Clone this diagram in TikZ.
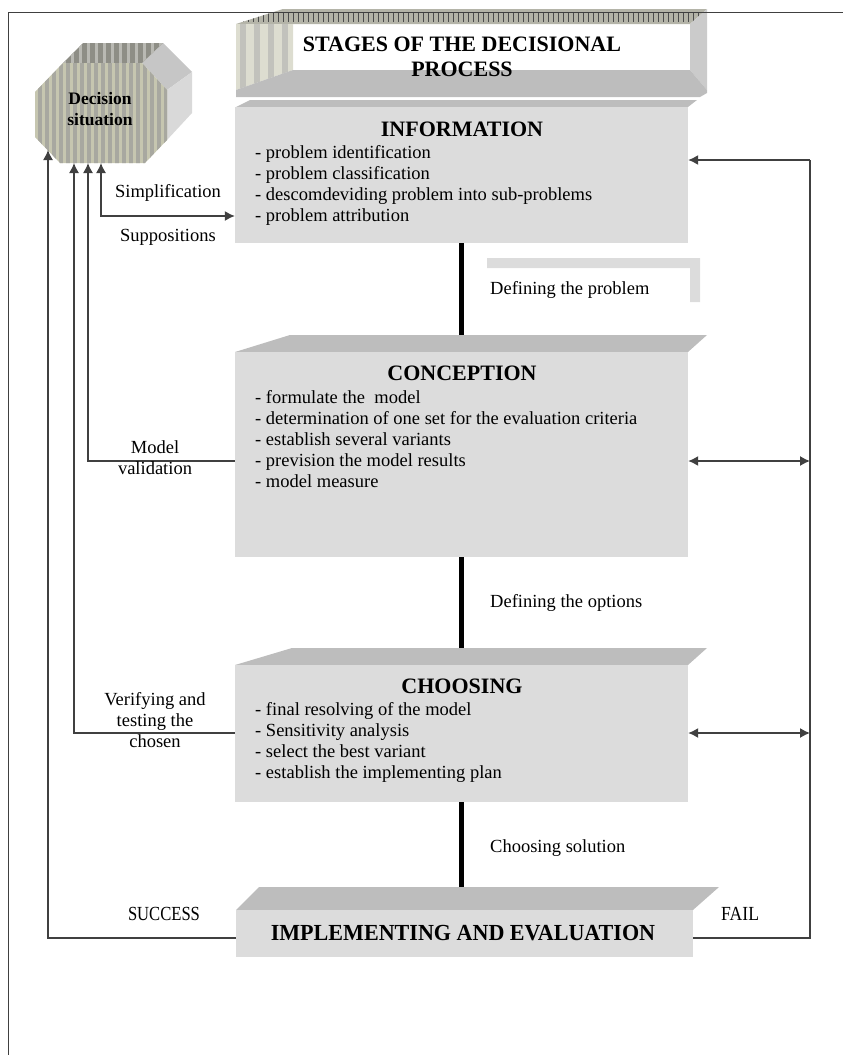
\documentclass[tikz,border=0pt]{standalone}
\usepackage{fontspec}
\setmainfont{Liberation Serif}
\usetikzlibrary{arrows.meta}

\definecolor{boxfront}{HTML}{DCDCDC}
\definecolor{boxtop}{HTML}{BDBDBD}
\definecolor{boxside}{HTML}{CBCBCB}
\definecolor{linegray}{HTML}{404040}
\definecolor{stripeA}{HTML}{C6C6B0}
\definecolor{stripeB}{HTML}{A8A8A0}
\definecolor{hextop}{HTML}{8E8E86}
\definecolor{titletop}{HTML}{B4B4A8}

\tikzset{
	stagebox/.style = {fill=boxfront, inner sep=0pt, minimum width=453pt},
	topface/.style = {fill=boxtop},
	conn/.style = {draw=linegray, line width=1.3pt},
	stem/.style = {line width=5pt, black},
	itemlist/.style = {font=\fontsize{18.5}{21}\selectfont, align=left, anchor=north west, inner sep=0pt},
	stagehead/.style = {font=\fontsize{22}{25}\selectfont\bfseries, anchor=base, inner sep=0pt},
	sidelabel/.style = {font=\fontsize{18.5}{21}\selectfont, align=center, inner sep=0pt},
	>={Latex[length=10pt,width=10pt]}
}

\begin{document}
\begin{tikzpicture}[x=1pt, y=-1pt]
	\useasboundingbox (0,0) rectangle (843,1055);
	
	% title box
	\begin{scope}
		\clip (236,24) -- (283,9) -- (707,9) -- (690,24) -- cycle;
		\fill[titletop] (230,5) rectangle (710,26);
		\foreach \x in {238,243,...,705}
			\draw[gray!60!black, line width=0.5pt] (\x,13) -- (\x,22);
	\end{scope}
	\begin{scope}
		\clip (236,24) -- (293,24) -- (293,70) -- (236,90) -- cycle;
		\fill[stripeA!60!white] (230,20) rectangle (300,95);
		\foreach \x in {240,254,...,290}
			\fill[stripeB!70!white] (\x,20) rectangle (\x+6,95);
	\end{scope}
	\fill[boxside] (690,24) -- (707,9) -- (707,90) -- (690,70) -- cycle;
	\fill[boxtop] (236,90) -- (293,70) -- (690,70) -- (707,90) -- (707,93) -- (700,97) -- (236,97) -- cycle;
	\node[font=\fontsize{22}{25}\selectfont\bfseries, align=center, anchor=north, inner sep=0pt] (title) at (462,37)
		{STAGES OF THE DECISIONAL\\PROCESS};
	
	% frame
	\draw[linegray, line width=1pt] (843,12) -- (8,12) -- (8,1055);
	
	% decision situation
	\fill[gray!45] (142,63) -- (163,43) -- (192,72) -- (167,90) -- cycle;
	\fill[gray!30] (167,90) -- (192,72) -- (192,113) -- (167,140) -- cycle;
	\begin{scope}
		\clip (63,63) -- (83,43) -- (163,43) -- (142,63) -- cycle;
		\fill[hextop] (55,40) rectangle (170,70);
		\foreach \x in {63,71,...,166}
			\fill[stripeB!80!white] (\x,40) rectangle (\x+3,70);
	\end{scope}
	\begin{scope}
		\clip (35,92) -- (63,63) -- (142,63) -- (167,90) -- (167,140) -- (145,163) -- (60,163) -- (35,137) -- cycle;
		\fill[stripeA] (30,60) rectangle (170,170);
		\foreach \x in {38,45,...,166}
			\fill[stripeB] (\x,60) rectangle (\x+3.5,170);
	\end{scope}
	\node[font=\fontsize{17.5}{21}\selectfont\bfseries, align=center, anchor=north, inner sep=0pt] (sit) at (100,92) {Decision\\situation};
	\coordinate (sitA) at (48,150);
	\coordinate (sitB) at (74,163);
	\coordinate (sitC) at (88,163);
	\coordinate (sitD) at (101,163);
	
	% stage boxes
	\fill[topface] (236,107) -- (250,100) -- (697,100) -- (688,107) -- cycle;
	\node[stagebox, minimum height=136pt] (info) at (461.5,175) {};
	\fill[topface] (235,352) -- (290,335) -- (707,335) -- (688,352) -- cycle;
	\node[stagebox, minimum height=205pt] (conc) at (461.5,454.5) {};
	\fill[topface] (235,665) -- (292,648) -- (707,648) -- (688,665) -- cycle;
	\node[stagebox, minimum height=137pt] (choose) at (461.5,733.5) {};
	\fill[topface] (236,910) -- (259,887) -- (719,887) -- (693,910) -- cycle;
	\node[stagebox, minimum width=457pt, minimum height=47pt] (impl) at (464.5,933.5) {};
	
	\node[stagehead] (infohead) at (462,136) {INFORMATION};
	\node[itemlist] (infolist) at (255,145) {- problem identification\\- problem classification\\- descomdeviding problem into sub-problems\\- problem attribution};
	\node[stagehead] (conchead) at (462,380) {CONCEPTION};
	\node[itemlist] (conclist) at (255,390) {- formulate the\ \ model\\- determination of one set for the evaluation criteria\\- establish several variants\\- prevision the model results\\- model measure};
	\node[stagehead] (choosehead) at (462,693) {CHOOSING};
	\node[itemlist] (chooselist) at (255,702) {- final resolving of the model\\- Sensitivity analysis\\- select the best variant\\- establish the implementing plan};
	\node[stagehead, font=\fontsize{23}{25}\selectfont\bfseries] (implhead) at (463,940) {\scalebox{0.96}[1]{IMPLEMENTING AND EVALUATION}};
	
	% stems between stages
	\draw[stem] (info.south) -- ([yshift=17pt]conc.north);
	\draw[stem] (conc.south) -- ([yshift=17pt]choose.north);
	\draw[stem] (choose.south) -- ([yshift=23pt]impl.north -| choose.south);
	\fill[boxfront] (487,258) -- (700,258) -- (700,302) -- (690,302) -- (690,268) -- (487,268) -- cycle;
	\node[sidelabel, anchor=base west] (deflab1) at (490,294) {Defining the problem};
	\node[sidelabel, anchor=base west] (deflab2) at (490,607) {Defining the options};
	\node[sidelabel, anchor=base west] (deflab3) at (490,852) {Choosing solution};
	
	% right feedback loop
	\coordinate (r1) at (810,160);
	\coordinate (r2) at (810,461);
	\coordinate (r3) at (810,733);
	\coordinate (r4) at (810,938);
	\draw[conn] (impl.east |- r4) -- (r4) -- (r1);
	\draw[conn, ->] (r1) -- (info.east |- r1);
	\draw[conn, <->] (conc.east |- r2) -- (r2);
	\draw[conn, <->] (choose.east |- r3) -- (r3);
	\node[sidelabel, anchor=base west, font=\fontsize{20}{22}\selectfont] (fail) at (721,920) {\scalebox{0.88}[1]{FAIL}};
	
	% left feedback loop
	\coordinate (l1) at (101,216);
	\coordinate (l2) at (88,461);
	\coordinate (l3) at (74,733);
	\coordinate (l4) at (48,938);
	\draw[conn, <->] (sitD) -- (l1) -- (info.west |- l1);
	\draw[conn, ->] (conc.west |- l2) -- (l2) -- (sitC);
	\draw[conn, ->] (choose.west |- l3) -- (l3) -- (sitB);
	\draw[conn, ->] (impl.west |- l4) -- (l4) -- (sitA);
	\node[sidelabel, anchor=base] (simp) at (168,197) {Simplification};
	\node[sidelabel, anchor=base] (supp) at (168,241) {Suppositions};
	\node[sidelabel, anchor=north] (valid) at (155,440) {Model\\validation};
	\node[sidelabel, anchor=north] (verif) at (155,692) {Verifying and\\testing the\\chosen};
	\node[sidelabel, anchor=base, font=\fontsize{20}{22}\selectfont] (succ) at (164,920) {\scalebox{0.83}[1]{SUCCESS}};
\end{tikzpicture}
\end{document}
